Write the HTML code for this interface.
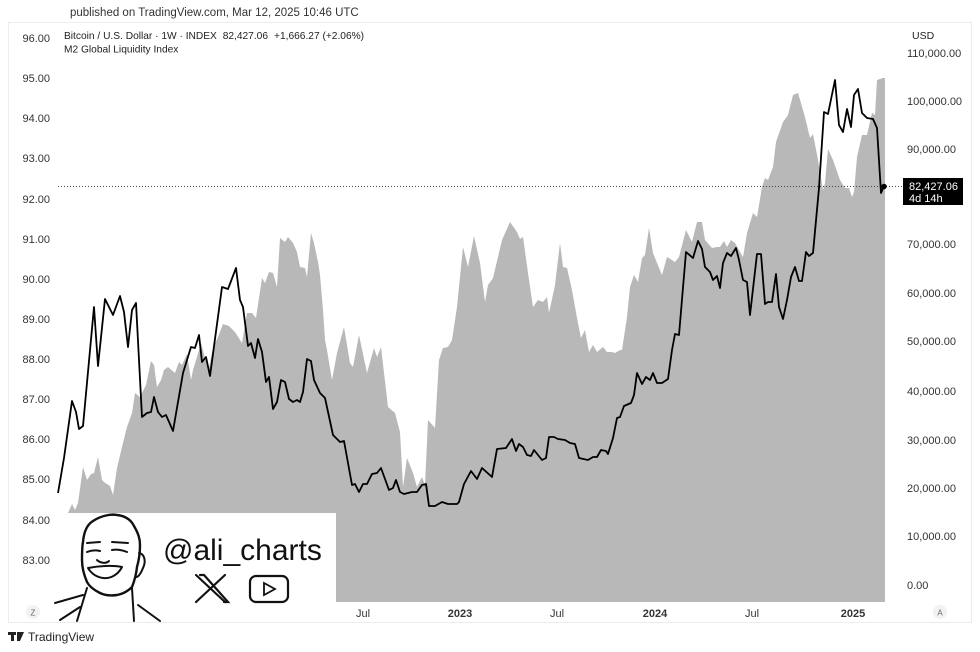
<!DOCTYPE html>
<html><head><meta charset="utf-8"><style>
html,body{margin:0;padding:0;background:#fff;}
svg{display:block;font-family:"Liberation Sans",Arial,sans-serif;}
</style></head><body>
<svg width="980" height="652" viewBox="0 0 980 652" xmlns="http://www.w3.org/2000/svg">
<rect x="0" y="0" width="980" height="652" fill="#fff"/>
<rect x="8.5" y="22.5" width="963" height="600" fill="none" stroke="#ececec" stroke-width="1"/>
<text x="70" y="16" font-size="11.5" fill="#333">published on TradingView.com, Mar 12, 2025 10:46 UTC</text>

<!-- M2 gray area -->
<polygon fill="#b8b8b8" points="64,602 66,515 68,513 72,504 75,510 78,503 83,467 87,480 91,474 94,473 98,457 102,480 104,482 110,486 113,495 117,468 122,447 127,427 132,413 135,393 140,397 146,385 151,361 154,365 157,387 161,380 164,370 168,367 175,373 179,362 182,365 187,354 191,380 193,370 197,357 201,343 205,358 209,368 213,348 218,337 223,324 229,326 235,332 242,343 247,313 252,313 256,318 262,278 265,283 269,272 273,273 277,287 280,238 285,242 288,237 293,243 297,252 300,267 305,268 307,277 311,233 314,243 318,262 320,275 323,310 325,340 327,350 332,380 337,353 344,327 350,363 353,367 359,335 367,373 374,348 377,357 381,347 388,407 395,413 400,432 403,487 407,458 413,473 417,487 422,477 425,485 428,420 435,428 439,360 443,348 448,347 452,340 457,307 463,247 468,267 474,236 480,263 485,302 488,285 493,278 502,240 510,222 517,232 520,239 523,237 528,273 533,307 538,300 543,302 547,297 549,313 555,285 560,243 563,267 567,268 572,290 577,318 581,338 585,330 589,352 593,345 597,352 603,347 607,352 612,352 615,353 620,350 622,350 627,317 630,287 634,275 638,282 642,258 645,255 649,228 653,253 657,263 662,275 667,257 675,262 679,257 686,230 692,242 697,222 702,222 705,240 712,248 717,247 720,247 724,241 727,247 731,240 735,243 743,257 747,233 753,213 757,217 762,187 765,178 768,180 773,167 776,142 783,122 788,115 793,95 798,93 805,117 810,138 813,134 818,160 823,190 825,183 828,149 833,160 840,180 845,188 849,188 852,197 854,192 857,157 862,135 867,135 872,113 875,115 877,80 883,78 885,78 885,602"/>

<!-- dotted price line -->
<line x1="58" y1="186.5" x2="903" y2="186.5" stroke="#444" stroke-width="1" stroke-dasharray="1,2"/>

<!-- logo white box -->
<rect x="55" y="513" width="281" height="90" fill="#fff"/>

<!-- BTC line -->
<polyline fill="none" stroke="#000" stroke-width="1.8" stroke-linejoin="round" points="58,493 64,458 72,401 76,412 79,429 83,426 94,307 98,366 105,299 113,315 120,296 124,312 128,347 132,310 136,303 142,417 147,413 151,412 154,397 158,412 162,417 166,415 173,431 183,373 191,347 195,348 199,335 202,362 206,357 210,376 222,287 228,289 236,268 240,300 243,307 248,346 251,343 255,358 258,339 262,352 266,382 269,377 273,409 277,402 281,380 285,382 289,399 293,402 297,400 300,402 303,392 307,359 311,361 314,380 320,393 325,398 333,435 340,442 344,441 352,485 355,484 359,492 363,484 367,484 372,474 377,473 381,468 389,490 393,488 396,480 400,492 404,494 412,492 417,492 422,485 426,484 429,506 435,506 442,502 448,504 457,504 459,502 464,484 471,471 477,479 482,468 492,477 497,449 506,448 512,439 516,451 519,444 523,447 527,455 531,456 534,450 542,460 546,458 549,437 554,437 558,439 565,440 570,443 575,444 579,458 588,460 593,457 597,457 601,450 606,451 608,454 613,438 617,418 620,417 624,406 631,403 634,395 637,373 642,384 646,377 650,380 653,373 657,383 662,383 668,379 672,350 675,334 679,335 686,252 693,258 698,241 702,249 705,267 710,272 713,280 717,276 720,288 723,263 727,253 731,256 736,248 739,260 743,280 747,282 750,315 757,254 761,254 765,304 768,302 772,302 776,274 779,307 783,319 787,300 791,277 795,267 799,281 802,281 806,252 809,256 813,253 819,188 824,112 828,114 835,80 839,125 843,132 847,109 851,127 854,95 858,89 862,113 867,118 873,119 877,128 881,193 884,186"/>
<circle cx="884" cy="186.5" r="2.8" fill="#000"/>

<!-- legend -->
<text x="64" y="39" font-size="10.2" fill="#222">Bitcoin / U.S. Dollar · 1W · INDEX  <tspan dx="3">82,427.06</tspan><tspan dx="6">+1,666.27 (+2.06%)</tspan></text>
<text x="64" y="52.5" font-size="10.2" fill="#222">M2 Global Liquidity Index</text>

<!-- left axis -->
<g font-size="11" fill="#333" text-anchor="end">
<text x="50" y="42">96.00</text>
<text x="50" y="82">95.00</text>
<text x="50" y="122">94.00</text>
<text x="50" y="162">93.00</text>
<text x="50" y="203">92.00</text>
<text x="50" y="243">91.00</text>
<text x="50" y="283">90.00</text>
<text x="50" y="323">89.00</text>
<text x="50" y="363">88.00</text>
<text x="50" y="403">87.00</text>
<text x="50" y="443">86.00</text>
<text x="50" y="483">85.00</text>
<text x="50" y="524">84.00</text>
<text x="50" y="564">83.00</text>
</g>

<!-- right axis -->
<g font-size="11" fill="#333">
<text x="907" y="57">110,000.00</text>
<text x="907" y="105">100,000.00</text>
<text x="907" y="153">90,000.00</text>
<text x="907" y="248">70,000.00</text>
<text x="907" y="297">60,000.00</text>
<text x="907" y="345">50,000.00</text>
<text x="907" y="395">40,000.00</text>
<text x="907" y="444">30,000.00</text>
<text x="907" y="492">20,000.00</text>
<text x="907" y="540">10,000.00</text>
<text x="907" y="589">0.00</text>
</g>
<rect x="905" y="23" width="64" height="26" fill="#fff"/>
<text x="912" y="39" font-size="10.5" fill="#222">USD</text>

<!-- price label -->
<rect x="903" y="178" width="60" height="27" fill="#000"/>
<text x="909" y="190" font-size="11" fill="#fff">82,427.06</text>
<text x="909" y="202" font-size="11" fill="#fff">4d 14h</text>

<!-- bottom axis -->
<g font-size="11" fill="#333" text-anchor="middle">
<text x="363" y="617">Jul</text>
<text x="460" y="617" font-weight="bold">2023</text>
<text x="557" y="617">Jul</text>
<text x="655" y="617" font-weight="bold">2024</text>
<text x="752" y="617">Jul</text>
<text x="853" y="617" font-weight="bold">2025</text>
</g>
<circle cx="33" cy="612" r="7" fill="#f2f2f2"/>
<text x="33" y="615.5" font-size="8" fill="#666" text-anchor="middle">Z</text>
<circle cx="940" cy="612" r="7" fill="#f2f2f2"/>
<text x="940" y="615.5" font-size="8" fill="#666" text-anchor="middle">A</text>

<!-- face sketch -->
<g fill="none" stroke="#111" stroke-width="2" stroke-linecap="round" stroke-linejoin="round">
<path d="M83,542 C84,530 88,524 93,521 C102,515 112,514 117,515 C126,516 131,520 134,526 C138,533 140,538 140,545 C140,552 139,560 137,567 C136,576 134,582 132,587 C128,591 123,594 117,595 C110,596 104,595 100,593 C94,590 89,586 87,582 C84,575 82,567 82,560 C82,553 82,547 83,542 Z" stroke-width="2.4"/>
<path d="M139,553 C145,554 146,562 143,568 C141,573 139,576 137,577"/>
<path d="M87,543 L100,542 M112,542 L128,543"/>
<path d="M87,552 C92,550 96,550 100,551 M112,550 C117,549 122,550 127,552"/>
<path d="M97,560 C100,563 106,564 109,561"/>
<path d="M88,568 C98,566 112,565 122,567 C118,575 110,579 103,578 C96,577 91,573 88,568 Z"/>
<path d="M87,588 L77,621 M55,603 L83,595 M60,620 L80,607"/>
<path d="M132,588 L134,621 M138,605 L160,621"/>
</g>

<!-- handle -->
<text x="163" y="560" font-size="30" fill="#111">@ali_charts</text>
<g stroke="#111" stroke-width="2.2" fill="none" stroke-linecap="round">
<path d="M196,575 L225,602 M225,575 L196,602"/>
<path d="M200,575 L204,575 L228,602 L224,602"/>
<rect x="250" y="576" width="38" height="26" rx="6"/>
<path d="M264,583 L275,589 L264,595 Z" stroke-width="1.8"/>
</g>

<!-- TradingView footer -->
<g fill="#222">
<rect x="8" y="632" width="8" height="3"/>
<rect x="11" y="632" width="3" height="9"/>
<path d="M17,632 L24,632 L20,641 L17,641 Z"/>
</g>
<text x="28" y="641" font-size="12" fill="#222">TradingView</text>
</svg>
</body></html>
